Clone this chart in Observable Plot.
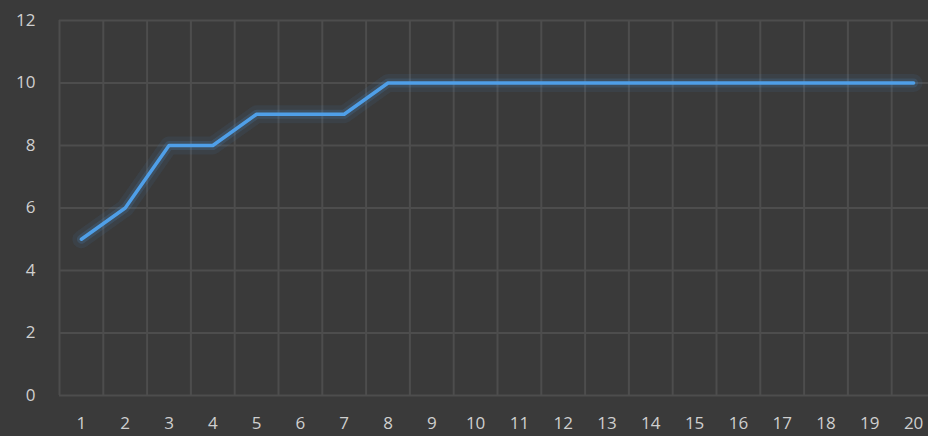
<!DOCTYPE html>
<html>
<head>
<meta charset="utf-8">
<script src="https://cdn.jsdelivr.net/npm/d3@7"></script>
<script src="https://cdn.jsdelivr.net/npm/@observablehq/plot@0.6"></script>
<style>
  html, body { margin: 0; padding: 0; background: #3a3a3a; overflow: hidden; }
  #chart svg { display: block; }
</style>
</head>
<body>
<div id="chart"></div>
<script>
// Categories along the x axis
const categories = [1, 2, 3, 4, 5, 6, 7, 8, 9, 10, 11, 12, 13, 14, 15, 16, 17, 18, 19, 20];
// Series values, one per category
const values = [5, 6, 8, 8, 9, 9, 9, 10, 10, 10, 10, 10, 10, 10, 10, 10, 10, 10, 10, 10];
// Value axis ticks
const yTicks = [0, 2, 4, 6, 8, 10, 12];

const data = categories.map((c, i) => ({x: c, y: values[i]}));
// gridlines sit on the boundaries between categories
const boundaries = [categories[0] - 0.5, ...categories.map(c => c + 0.5)];

const lineColor = "#4f9fe8";
const gridColor = "#4d4d4d";
const textColor = "#cfcfcf";

const chart = Plot.plot({
  width: 928,
  height: 436,
  marginLeft: 59,
  marginRight: 0,
  marginTop: 20,
  marginBottom: 41,
  style: {
    background: "#3a3a3a",
    color: textColor,
    fontSize: "17px",
    fontFamily: "'Open Sans', sans-serif"
  },
  x: {type: "linear", domain: [0.5, 20.5], range: [59, 935]},
  y: {domain: [0, 12], range: [395, 20]},
  marks: [
    Plot.ruleY(yTicks, {stroke: gridColor, strokeWidth: 2}),
    Plot.ruleX(boundaries, {y1: 0, y2: 12, stroke: gridColor, strokeWidth: 2}),
    Plot.axisY(yTicks, {tickSize: 0, tickPadding: 24, label: null, fill: textColor}),
    Plot.axisX(categories, {tickSize: 0, tickPadding: 21, label: null, tickFormat: d => String(d), fill: textColor}),
    // soft halo around the series line
    Plot.line(data, {x: "x", y: "y", stroke: lineColor, strokeWidth: 18, strokeOpacity: 0.08}),
    Plot.line(data, {x: "x", y: "y", stroke: lineColor, strokeWidth: 9, strokeOpacity: 0.15}),
    Plot.line(data, {x: "x", y: "y", stroke: lineColor, strokeWidth: 3.5})
  ]
});
document.getElementById("chart").append(chart);
</script>
</body>
</html>
